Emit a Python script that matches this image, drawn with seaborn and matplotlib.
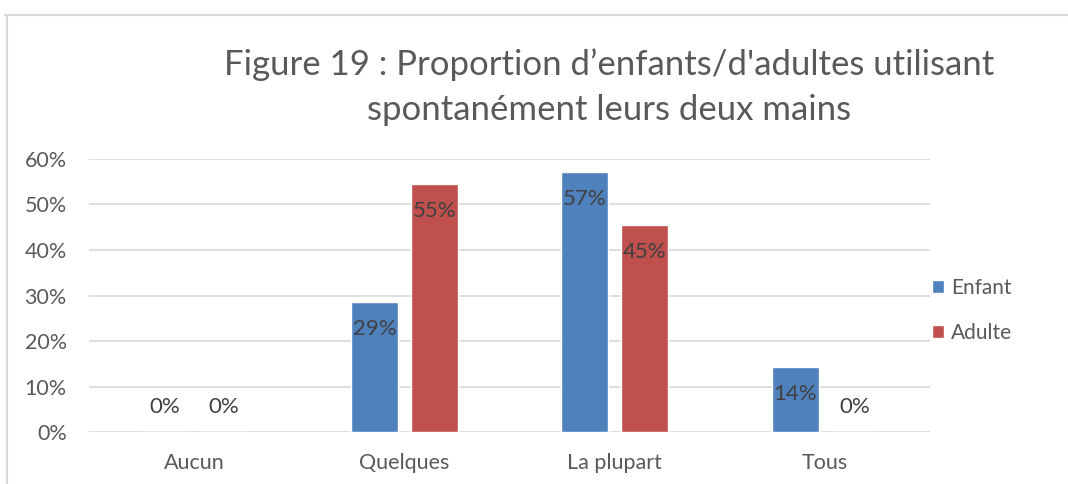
import pandas as pd
import matplotlib.pyplot as plt
import seaborn as sns
from matplotlib.lines import Line2D
from matplotlib.ticker import PercentFormatter

categories = ["Aucun", "Quelques", "La plupart", "Tous"]
enfant = [0.0, 0.2857, 0.5714, 0.1429]
adulte = [0.0, 0.5455, 0.4545, 0.0]
groups = ["Enfant", "Adulte"]
title = "Figure 19 : Proportion d\u2019enfants/d'adultes utilisant\nspontanément leurs deux mains"

df = pd.DataFrame({
    "Catégorie": categories * 2,
    "Groupe": [groups[0]] * len(categories) + [groups[1]] * len(categories),
    "Proportion": enfant + adulte,
})

sns.set_style("white")
plt.rcParams["font.family"] = ["Lato", "DejaVu Sans"]

fig = plt.figure(figsize=(10.68, 4.84), dpi=100)
ax = fig.add_axes([0.0833, 0.1074, 0.7875, 0.5641])

sns.barplot(data=df, x="Catégorie", y="Proportion", hue="Groupe",
            palette=["#4F81BD", "#C0504D"], width=0.567, gap=0.21,
            saturation=1, ax=ax, errorbar=None)

ax.set_ylim(0, 0.6)
ax.set_yticks([0, 0.1, 0.2, 0.3, 0.4, 0.5, 0.6])
ax.yaxis.set_major_formatter(PercentFormatter(1.0, decimals=0))
ax.grid(axis="y", color="#D9D9D9", linewidth=1.2)
ax.set_axisbelow(True)
for s in ax.spines.values():
    s.set_visible(False)
ax.tick_params(axis="both", length=0, labelsize=15.5, labelcolor="#595959")
ax.tick_params(axis="y", pad=16)
ax.tick_params(axis="x", pad=15)
ax.set_xlabel("")
ax.set_ylabel("")

# data labels
for cont in ax.containers:
    for bar in cont:
        h = bar.get_height()
        xc = bar.get_x() + bar.get_width() / 2
        off = -27 if h > 0 else 25
        ax.annotate(f"{h:.0%}", (xc, h), xytext=(0, off), textcoords="offset pixels",
                    ha="center", va="center", fontsize=16, color="#404040")

leg = ax.legend(loc="center left", bbox_to_anchor=(0.855, 0.358), bbox_transform=fig.transFigure,
                frameon=False, fontsize=15, handlelength=0.6, handleheight=0.6,
                handletextpad=0.3, labelspacing=1.2)
for t in leg.get_texts():
    t.set_color("#595959")

fig.text(0.570, 0.82, title, ha="center", va="center", fontsize=25,
         color="#595959", linespacing=1.5)

# chart border
fig.add_artist(Line2D([0.005, 1.0], [0.969, 0.969], color="#D9D9D9", linewidth=1.5))
fig.add_artist(Line2D([0.0066, 0.0066], [0.0, 0.969], color="#D9D9D9", linewidth=1.5))

fig.savefig("out.png", dpi=100)
